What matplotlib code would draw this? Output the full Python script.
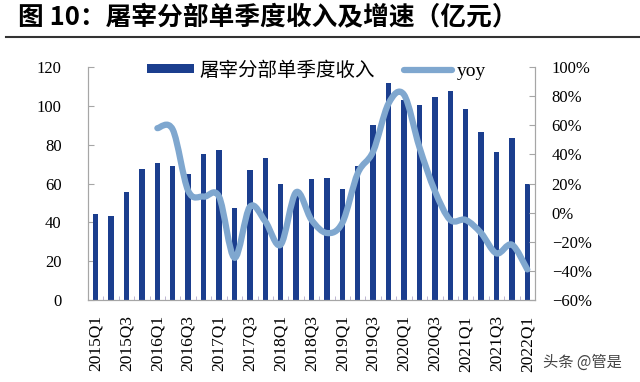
import numpy as np
import matplotlib
matplotlib.use("Agg")
import matplotlib.pyplot as plt
from matplotlib.path import Path
from matplotlib.patches import PathPatch
from matplotlib.lines import Line2D
from matplotlib.ticker import FuncFormatter

# ---------------- data ----------------
quarters = ["2015Q1", "2015Q2", "2015Q3", "2015Q4",
            "2016Q1", "2016Q2", "2016Q3", "2016Q4",
            "2017Q1", "2017Q2", "2017Q3", "2017Q4",
            "2018Q1", "2018Q2", "2018Q3", "2018Q4",
            "2019Q1", "2019Q2", "2019Q3", "2019Q4",
            "2020Q1", "2020Q2", "2020Q3", "2020Q4",
            "2021Q1", "2021Q2", "2021Q3", "2021Q4",
            "2022Q1"]
revenue = [44.5, 43.5, 55.5, 67.5, 70.5, 69, 65, 75, 77, 47.5, 67, 73,
           60, 55, 62.5, 63, 57, 69, 90, 112, 103, 100.5, 104.5, 107.5,
           98.5, 86.5, 76, 83.5, 60]
yoy_quarters = quarters[4:]
yoy = [58, 57, 15, 11, 11, -31, 4, -6, -22, 14, -5, -14, -7, 27, 42, 75,
       81, 45, 15, -5, -5, -14, -28, -22, -39]
left_ticks = [0, 20, 40, 60, 80, 100, 120]
right_ticks = [-60, -40, -20, 0, 20, 40, 60, 80, 100]
bar_label = "屠宰分部单季度收入"
line_label = "yoy"
title = "图 10：屠宰分部单季度收入及增速（亿元）"

BAR_C = "#1B3E8E"
LINE_C = "#7FA7CF"
SPINE_C = "#A6A6A6"
SERIF = "Liberation Serif"
CJK = "Noto Sans CJK SC"

fig = plt.figure(figsize=(6.4, 3.82), dpi=100)
ax = fig.add_axes([88 / 640, 1 - 300 / 382, (535 - 88) / 640, (300 - 67) / 382])

x = np.arange(len(quarters))
bars = ax.bar(x, revenue, width=0.35, color=BAR_C, zorder=2)
ax.set_xlim(-0.5, len(quarters) - 0.5)
ax.set_ylim(0, 120)
ax.set_yticks(left_ticks)
ax.set_yticklabels([str(t) for t in left_ticks], family=SERIF, fontsize=12)

ax.set_xticks(x[::2])
ax.set_xticklabels(quarters[::2], rotation=90, family=SERIF, fontsize=12.5)
ax.set_xticks(np.arange(-0.5, len(quarters) + 0.5, 1), minor=True)
ax.tick_params(axis="x", which="major", length=0, pad=11)
ax.tick_params(axis="x", which="minor", direction="in", length=3, color="#B3AACB")
ax.tick_params(axis="y", direction="in", length=4, color=SPINE_C, pad=19)

for s in ["left", "bottom", "right"]:
    ax.spines[s].set_color(SPINE_C)
ax.spines["top"].set_visible(False)

ax2 = ax.twinx()
ax2.set_ylim(-60, 100)
ax2.set_yticks(right_ticks)
ax2.yaxis.set_major_formatter(FuncFormatter(lambda v, p: f"{int(v)}%".replace("-", "\u2212")))
ax2.tick_params(axis="y", direction="in", length=4, color=SPINE_C, pad=12, labelsize=12)
for lab in ax2.get_yticklabels():
    lab.set_family(SERIF)
for s in ["left", "bottom", "right"]:
    ax2.spines[s].set_color(SPINE_C)
ax2.spines["top"].set_visible(False)

# smoothed line (Bezier rendering of the yoy points)
xs = np.array([quarters.index(q) for q in yoy_quarters], dtype=float)
ys = np.array(yoy, dtype=float)
pts = np.column_stack([xs, ys])
n = len(pts)
verts = [tuple(pts[0])]
codes = [Path.MOVETO]
for i in range(n - 1):
    p0 = pts[i - 1] if i > 0 else pts[i]
    p1 = pts[i]
    p2 = pts[i + 1]
    p3 = pts[i + 2] if i + 2 < n else pts[i + 1]
    c1 = p1 + (p2 - p0) / 6.0
    c2 = p2 - (p3 - p1) / 6.0
    verts += [tuple(c1), tuple(c2), tuple(p2)]
    codes += [Path.CURVE4] * 3
patch = PathPatch(Path(verts, codes), fill=False, edgecolor=LINE_C, lw=4.5,
                  capstyle="round", joinstyle="round", zorder=3)
ax2.add_patch(patch)

proxy = Line2D([], [], color=LINE_C, lw=4.5, solid_capstyle="round")
leg = fig.legend([bars, proxy], [bar_label, line_label], loc="center",
                 bbox_to_anchor=(0.494, 1 - 70 / 382), ncol=2, frameon=False,
                 prop={"family": CJK, "size": 14}, handlelength=2.45,
                 handletextpad=0.25, columnspacing=1.5, handleheight=0.35,
                 borderpad=0, borderaxespad=0)
leg.get_texts()[1].set_family(SERIF)

fig.text(18 / 640, 1 - 18 / 382, title, fontsize=18.5, fontweight="bold",
         family=[CJK, "DejaVu Sans"], va="center", ha="left")
fig.add_artist(Line2D([6 / 640, 1.0], [1 - 37 / 382] * 2, color="#333333", lw=1.5))
fig.text(543 / 640, 1 - 362 / 382, "头条 @管是", fontsize=11, color="#444444",
         family=[CJK, "DejaVu Sans"], va="center", ha="left")

fig.savefig("out.png", dpi=100)
